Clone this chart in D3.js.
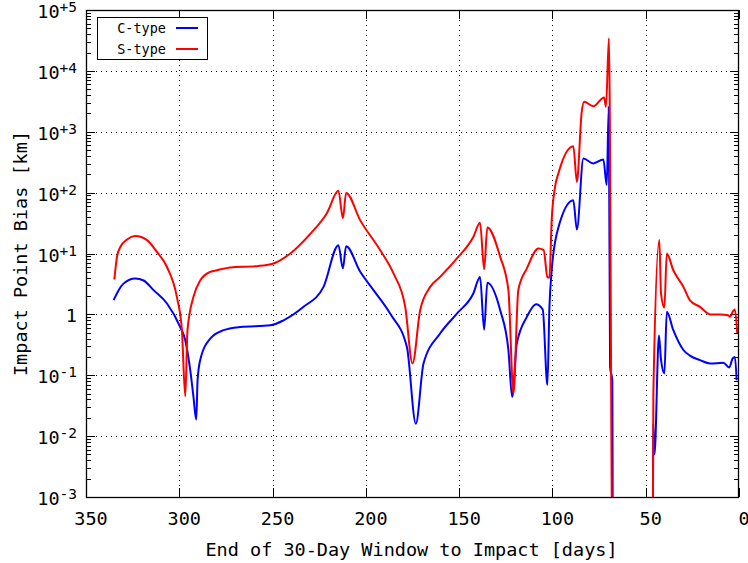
<!DOCTYPE html>
<html>
<head>
<meta charset="utf-8">
<script src="https://cdn.jsdelivr.net/npm/d3@7"></script>
<style>
  body { margin: 0; background: #fff; }
  text { font-family: "DejaVu Sans Mono", "Liberation Mono", monospace; fill: #000; }
</style>
</head>
<body>
<svg id="chart" width="748" height="563"></svg>
<script>
// Axis ticks
const xTicks = [350, 300, 250, 200, 150, 100, 50, 0];
const yExponents = [-3, -2, -1, 0, 1, 2, 3, 4, 5];

// C-type: days before impact (end of 30-day window) and impact point bias [km]
const cDays = [335.2, 332.5, 329.9, 323.6, 319.1, 313.8, 306.6, 299.5, 296.8, 294.1,
  292.4, 290.9, 290.2, 288.8, 283.4, 276.3, 267.3, 251.3, 244.1, 233.4,
  222.7, 214.7, 212.3, 210.6, 203.0, 195.9, 187.0, 178.0, 173.2, 169.1,
  160.2, 151.2, 142.4, 138.8, 136.6, 134.9, 128.0, 123.6, 121.6, 119.1,
  113.7, 108.8, 105.2, 102.7, 101.6, 100.4, 96.8, 88.8, 86.9, 83.4,
  78.1, 72.7, 70.9, 69.8, 69.1, 67.9, 67.6, 46.2, 46.0, 45.3,
  42.9, 41.8, 40.0, 38.7, 35.2, 29.8, 26.3, 20.9, 15.5, 8.4,
  5.2, 3.4, 2.2, 1.25];
const cBias = [1.71, 2.5, 3.2, 3.9, 3.6, 2.5, 1.51, 0.62, 0.377, 0.12,
  0.044, 0.0187, 0.083, 0.177, 0.40, 0.55, 0.62, 0.66, 0.80, 1.33,
  2.83, 13.7, 5.7, 13.2, 5.0, 2.5, 1.03, 0.29, 0.016, 0.156,
  0.485, 1.03, 2.2, 4.13, 0.56, 3.3, 1.17, 0.26, 0.044, 0.33,
  0.91, 1.47, 1.2, 0.069, 1.33, 5.3, 26.8, 75, 24.8, 363,
  302, 350, 133, 2570, 0.137, 0.083, 1e-4, 1e-4, 0.016, 0.005,
  0.45, 0.18, 0.107, 1.1, 0.55, 0.26, 0.21, 0.177, 0.156, 0.16,
  0.134, 0.19, 0.2, 0.083];

// S-type
const sDays = [334.8, 333.4, 331.6, 328.0, 323.6, 317.3, 312.0, 306.6, 301.3, 298.6,
  296.8, 295.6, 292.4, 288.8, 283.4, 279.8, 272.7, 258.4, 250.4, 240.5,
  229.8, 220.9, 214.7, 212.3, 210.6, 203.0, 192.3, 185.2, 178.9, 175.0,
  170.9, 165.5, 160.2, 151.2, 142.4, 138.8, 136.6, 134.9, 128.0, 123.6,
  120.9, 118.3, 113.7, 107.5, 104.7, 102.7, 101.6, 100.4, 98.6, 96.8,
  88.8, 86.9, 84.3, 83.0, 78.1, 72.3, 71.3, 69.7, 67.8, 46.2,
  45.9, 42.7, 41.8, 40.0, 38.7, 35.2, 29.8, 26.3, 20.9, 15.5,
  10.2, 5.8, 4.85, 3.1, 2.2, 0.95];
const sBias = [3.74, 8.8, 12.8, 17, 19.3, 16.6, 10.6, 6.0, 1.94, 0.55,
  0.045, 0.55, 1.94, 3.6, 5.0, 5.3, 5.9, 6.2, 6.7, 10,
  21, 46, 107, 38, 99, 35, 11.3, 4.7, 1.33, 0.156,
  1.17, 2.83, 4.13, 8.3, 18.7, 32, 5.5, 26.8, 8.8, 2.5,
  0.05, 2.5, 5.7, 12.1, 11.4, 4.1, 4.0, 35, 124, 207,
  580, 150, 2130, 3100, 2630, 3670, 2570, 34200, 1e-4, 1e-4,
  0.05, 16.6, 2.2, 1.3, 10, 5.3, 2.83, 1.7, 1.33, 1.0,
  1.0, 0.97, 0.91, 1.14, 1.2, 0.49];

const seriesNames = ["C-type", "S-type"];
const seriesColors = ["#0000ff", "#ff0000"];

const svg = d3.select("#chart");
const L = 86, R = 739, T = 10, B = 497;

const x = d3.scaleLinear().domain([350, 0]).range([L, R]);
const y = d3.scaleLog().domain([1e-3, 1e5]).range([B, T]);
const px = v => Math.round(v) + 0.5;

// Grid (dotted)
const grid = svg.append("g").attr("stroke", "#000").attr("stroke-width", 1)
  .attr("stroke-dasharray", "1,4");
grid.selectAll(".gx").data(xTicks.filter(d => d !== 350 && d !== 0)).join("line")
  .attr("x1", d => px(x(d))).attr("x2", d => px(x(d)))
  .attr("y1", T).attr("y2", B);
grid.selectAll(".gy").data(yExponents.filter(e => e > -3 && e < 5)).join("line")
  .attr("y1", e => px(y(Math.pow(10, e)))).attr("y2", e => px(y(Math.pow(10, e))))
  .attr("x1", L).attr("x2", R);

// Minor log ticks (2..9 per decade) on left and right
const minors = [];
for (let e = -3; e < 5; e++) for (let m = 2; m <= 9; m++) minors.push(m * Math.pow(10, e));
const tickG = svg.append("g").attr("stroke", "#000").attr("stroke-width", 1);
tickG.selectAll(".ml").data(minors).join("line")
  .attr("x1", L).attr("x2", L + 5)
  .attr("y1", d => px(y(d))).attr("y2", d => px(y(d)));
tickG.selectAll(".mr").data(minors).join("line")
  .attr("x1", R - 5).attr("x2", R)
  .attr("y1", d => px(y(d))).attr("y2", d => px(y(d)));
// Major y ticks
tickG.selectAll(".Ml").data(yExponents).join("line")
  .attr("x1", L).attr("x2", L + 9)
  .attr("y1", e => px(y(Math.pow(10, e)))).attr("y2", e => px(y(Math.pow(10, e))));
tickG.selectAll(".Mr").data(yExponents).join("line")
  .attr("x1", R - 9).attr("x2", R)
  .attr("y1", e => px(y(Math.pow(10, e)))).attr("y2", e => px(y(Math.pow(10, e))));
// Major x ticks, bottom and top
tickG.selectAll(".xb").data(xTicks).join("line")
  .attr("x1", d => px(x(d))).attr("x2", d => px(x(d)))
  .attr("y1", B).attr("y2", B - 9);
tickG.selectAll(".xt").data(xTicks).join("line")
  .attr("x1", d => px(x(d))).attr("x2", d => px(x(d)))
  .attr("y1", T).attr("y2", T + 9);

// Curves, clipped to the plot frame
svg.append("clipPath").attr("id", "plotclip").append("rect")
  .attr("x", L).attr("y", T).attr("width", R - L).attr("height", B - T);

const line = d3.line().curve(d3.curveMonotoneX).x(d => x(d[0])).y(d => y(d[1]));
const series = [d3.zip(cDays, cBias), d3.zip(sDays, sBias)];
const curves = svg.append("g").attr("clip-path", "url(#plotclip)");
series.forEach((pts, i) => {
  curves.append("path").datum(pts)
    .attr("fill", "none").attr("stroke", seriesColors[i]).attr("stroke-width", 2)
    .attr("stroke-linejoin", "round")
    .attr("d", line);
});

// Frame
svg.append("rect").attr("x", L + 0.5).attr("y", T + 0.5)
  .attr("width", R - L - 1).attr("height", B - T)
  .attr("fill", "none").attr("stroke", "#000").attr("stroke-width", 1.3);

// X tick labels
svg.append("g").selectAll("text").data(xTicks).join("text")
  .attr("x", d => x(d) + 5).attr("y", 525)
  .attr("text-anchor", "middle").attr("font-size", 18.5)
  .text(d => d);

// Y tick labels: 1 for 10^0, otherwise 10 with signed exponent
const yl = svg.append("g").selectAll("text").data(yExponents).join("text")
  .attr("x", 77).attr("y", e => y(Math.pow(10, e)) + 8)
  .attr("text-anchor", "end").attr("font-size", 18.5);
yl.each(function(e) {
  const t = d3.select(this);
  if (e === 0) { t.text("1"); return; }
  t.append("tspan").text("10");
  t.append("tspan").attr("font-size", 14.5).attr("dy", -6).text((e > 0 ? "+" : "-") + Math.abs(e));
});

// Axis titles
svg.append("text").attr("x", 411.5).attr("y", 556)
  .attr("text-anchor", "middle").attr("font-size", 18.5)
  .text("End of 30-Day Window to Impact [days]");
svg.append("text").attr("transform", `translate(27,${(T + B) / 2}) rotate(-90)`)
  .attr("text-anchor", "middle").attr("font-size", 18.5)
  .text("Impact Point Bias [km]");

// Legend
const lg = svg.append("g");
lg.append("rect").attr("x", 97.5).attr("y", 17.5).attr("width", 110).attr("height", 42)
  .attr("fill", "#fff").attr("stroke", "#000").attr("stroke-width", 1);
seriesNames.forEach((name, i) => {
  const yy = 28 + i * 21;
  lg.append("text").attr("x", 166).attr("y", yy + 5).attr("text-anchor", "end")
    .attr("font-size", 13.5).text(name);
  lg.append("line").attr("x1", 176).attr("x2", 198).attr("y1", yy).attr("y2", yy)
    .attr("stroke", seriesColors[i]).attr("stroke-width", 2);
});
</script>
</body>
</html>
